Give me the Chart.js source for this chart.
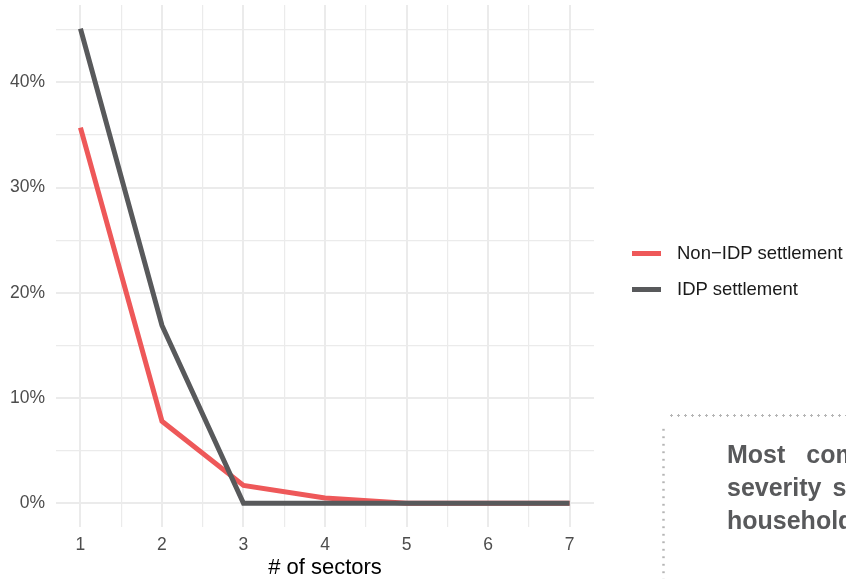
<!DOCTYPE html>
<html>
<head>
<meta charset="utf-8">
<script src="https://cdn.jsdelivr.net/npm/chart.js@4"></script>
<style>
  html, body { margin: 0; padding: 0; background: #fff; overflow: hidden; }
  #wrap { position: relative; width: 846px; height: 579px; overflow: hidden; font-family: "Liberation Sans", Arial, sans-serif; }
  #chart { position: absolute; left: 0; top: 0; }
  .legend-item { position: absolute; left: 632px; height: 20px; display: flex; align-items: center; font-size: 18.5px; color: #1a1a1a; }
  .legend-key { width: 29px; height: 5px; margin-right: 16px; }
  #note { position: absolute; left: 662px; top: 414px; width: 300px; height: 200px; }
  #note .dots-top { position: absolute; left: 6px; top: 0; right: 0; height: 3px;
    background-image: radial-gradient(circle, #b5b5b5 1px, transparent 1.4px); background-size: 7px 3px; }
  #note .dots-left { position: absolute; left: 0; top: 12px; bottom: 0; width: 3px;
    background-image: radial-gradient(circle, #b5b5b5 1px, transparent 1.4px); background-size: 3px 7.5px; }
  #note .txt { position: absolute; left: 65px; top: 24px; font-weight: bold; font-size: 25px; line-height: 33px; color: #58595b; white-space: nowrap; }
</style>
</head>
<body>
<div id="wrap">
  <canvas id="chart" width="846" height="579"></canvas>
  <div class="legend-item" style="top:243px"><span class="legend-key" style="background:#ee5859"></span>Non−IDP settlement</div>
  <div class="legend-item" style="top:279px"><span class="legend-key" style="background:#58595b"></span>IDP settlement</div>
  <div id="note">
    <div class="dots-top"></div>
    <div class="dots-left"></div>
    <div class="txt">
      <div style="word-spacing:14px">Most common severity</div>
      <div style="word-spacing:4px">severity score among</div>
      <div>households</div>
    </div>
  </div>
</div>
<script>
// Data (share of households, %)
const sectors = [1, 2, 3, 4, 5, 6, 7];
const nonIdpValues = [35.7, 7.8, 1.7, 0.5, 0, 0, 0];
const idpValues = [45.1, 16.9, 0, 0, 0, 0, 0];
const xTicks = [1, 1.5, 2, 2.5, 3, 3.5, 4, 4.5, 5, 5.5, 6, 6.5, 7];
const yTicks = [0, 5, 10, 15, 20, 25, 30, 35, 40, 45];

const gridColor = '#ebebeb';
const tickColor = '#4d4d4d';
const font = "'Liberation Sans', Arial, sans-serif";

function toPoints(values) {
    return sectors.map((s, i) => ({ x: s, y: values[i] }));
}

// drop the extra room Chart.js reserves for overhanging tick labels
function noOverhang(scale) {
    scale.paddingTop = 0;
    scale.paddingBottom = 0;
    scale.paddingLeft = 0;
    scale.paddingRight = 0;
}

new Chart(document.getElementById('chart'), {
    type: 'line',
    data: {
        datasets: [
            {
                label: 'Non−IDP settlement',
                data: toPoints(nonIdpValues),
                borderColor: '#ee5859',
                borderWidth: 5,
                pointRadius: 0,
                tension: 0,
                order: 2
            },
            {
                label: 'IDP settlement',
                data: toPoints(idpValues),
                borderColor: '#58595b',
                borderWidth: 5,
                pointRadius: 0,
                tension: 0,
                order: 1
            }
        ]
    },
    options: {
        responsive: false,
        animation: false,
        layout: { padding: { top: 5, right: 252, left: 0, bottom: 0 } },
        plugins: {
            legend: { display: false },
            tooltip: { enabled: false }
        },
        scales: {
            x: {
                type: 'linear',
                min: 0.7,
                max: 7.3,
                afterBuildTicks: scale => {
                    scale.ticks = xTicks.map(v => ({ value: v }));
                },
                afterFit: scale => { scale.height = 52; noOverhang(scale); },
                border: { display: false },
                grid: {
                    color: gridColor,
                    drawTicks: false,
                    lineWidth: ctx => (ctx.tick && ctx.tick.value % 1 === 0) ? 2 : 1.2
                },
                ticks: {
                    padding: 8,
                    autoSkip: false,
                    maxRotation: 0,
                    color: tickColor,
                    font: { family: font, size: 17.5 },
                    callback: v => (v % 1 === 0 ? String(v) : '')
                },
                title: {
                    display: true,
                    text: '# of sectors',
                    color: '#000',
                    font: { family: font, size: 22, lineHeight: 1 },
                    padding: { top: 0, bottom: 0 }
                }
            },
            y: {
                min: -2.25,
                max: 47.35,
                afterBuildTicks: scale => {
                    scale.ticks = yTicks.map(v => ({ value: v }));
                },
                afterFit: scale => { scale.width = 56; noOverhang(scale); },
                border: { display: false },
                grid: {
                    color: gridColor,
                    drawTicks: false,
                    lineWidth: ctx => (ctx.tick && ctx.tick.value % 10 === 0) ? 2 : 1.2
                },
                ticks: {
                    padding: 11,
                    autoSkip: false,
                    color: tickColor,
                    font: { family: font, size: 17.5 },
                    callback: v => (v % 10 === 0 ? v + '%' : '')
                }
            }
        }
    }
});
</script>
</body>
</html>
